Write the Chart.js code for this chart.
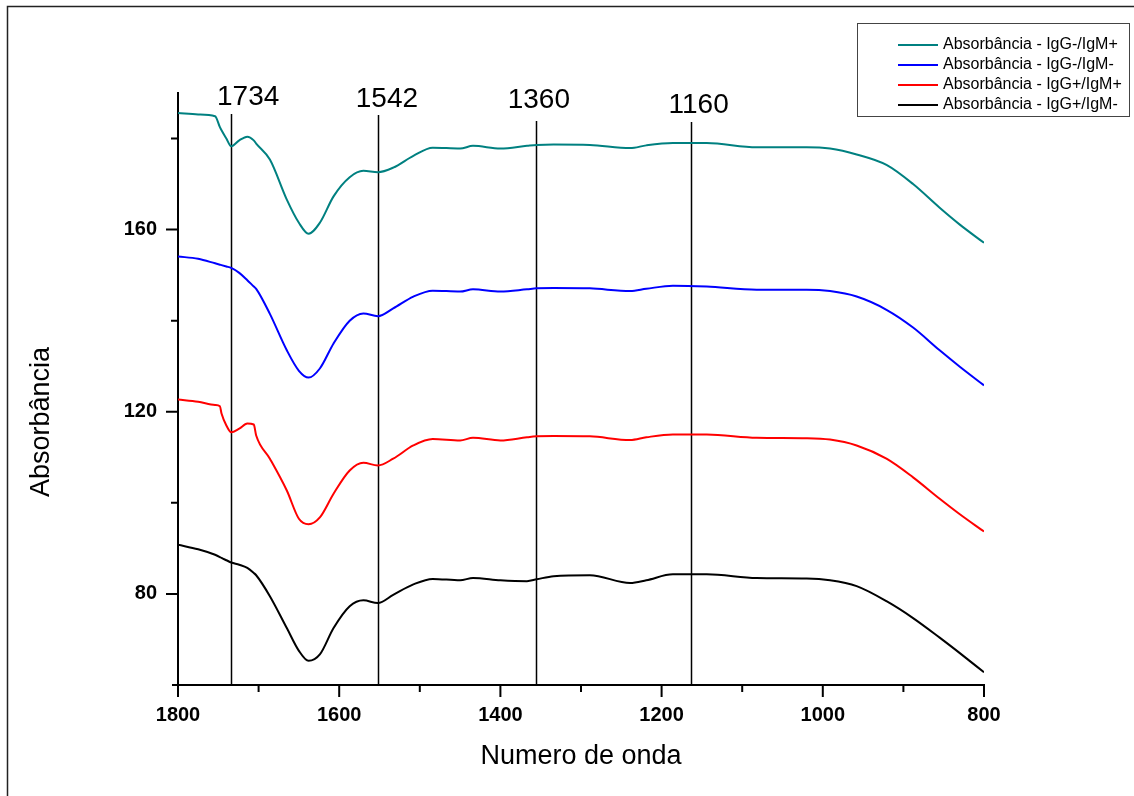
<!DOCTYPE html>
<html>
<head>
<meta charset="utf-8">
<script src="https://cdn.jsdelivr.net/npm/chart.js@4.4.1/dist/chart.umd.min.js"></script>
<style>
  html, body { margin: 0; padding: 0; background: #fff; }
  canvas { display: block; }
</style>
</head>
<body>
<canvas id="spectraChart" width="1134" height="796"></canvas>
<script>
// wave numbers (cm-1) shared by all four spectra
const waveNumbers = [1800, 1775, 1754, 1748, 1746, 1740, 1734, 1724, 1714, 1706, 1703, 1686, 1665, 1650, 1638, 1624, 1607, 1587, 1570, 1552, 1533, 1508, 1484, 1450, 1434, 1400, 1367, 1355, 1334, 1289, 1239, 1219, 1186, 1144, 1082, 1020, 991, 958, 921, 888, 855, 830, 800];

const igGnegIgMpos = [185.6, 185.3, 184.9, 182.5, 181.8, 180.0, 178.3, 179.6, 180.4, 179.6, 178.9, 175.4, 166.6, 161.5, 159.1, 161.5, 167.3, 171.5, 172.9, 172.6, 173.6, 176.2, 178.0, 177.8, 178.4, 177.8, 178.4, 178.6, 178.7, 178.6, 177.9, 178.5, 179.0, 179.0, 178.1, 178.1, 177.8, 176.5, 174.2, 170.0, 164.8, 161.1, 157.1];
const igGnegIgMneg = [154.1, 153.6, 152.6, 152.3, 152.2, 151.9, 151.6, 150.5, 148.9, 147.5, 147.0, 141.5, 133.5, 129.0, 127.5, 129.5, 135.0, 140.0, 141.6, 141.0, 142.7, 145.3, 146.6, 146.4, 146.9, 146.4, 146.9, 147.1, 147.2, 147.1, 146.5, 147.0, 147.7, 147.5, 146.8, 146.8, 146.5, 145.3, 142.4, 138.5, 133.5, 129.9, 125.8];
const igGposIgMpos = [122.7, 122.2, 121.5, 121.2, 119.6, 117.0, 115.5, 116.3, 117.4, 117.2, 114.8, 109.7, 102.7, 96.5, 95.3, 96.8, 102.0, 107.1, 108.8, 108.2, 109.7, 112.6, 114.0, 113.7, 114.3, 113.7, 114.4, 114.6, 114.7, 114.6, 113.8, 114.4, 115.0, 115.0, 114.3, 114.2, 113.9, 112.6, 109.7, 105.6, 100.9, 97.5, 93.7];
const igGposIgMneg = [90.8, 89.8, 88.6, 88.1, 87.9, 87.4, 86.9, 86.4, 85.7, 84.6, 84.1, 79.5, 72.5, 67.5, 65.3, 66.7, 72.5, 77.3, 78.6, 78.0, 79.8, 82.1, 83.3, 83.0, 83.5, 83.0, 82.8, 83.2, 83.9, 84.1, 82.4, 83.0, 84.3, 84.3, 83.5, 83.4, 83.0, 81.7, 78.4, 74.7, 70.4, 67.0, 62.8];

const seriesLabels = ['Absorbância - IgG-/IgM+', 'Absorbância - IgG-/IgM-', 'Absorbância - IgG+/IgM+', 'Absorbância - IgG+/IgM-'];
const seriesColors = ['#008080', '#0000ff', '#ff0000', '#000000'];

// tick labels
const xTickLabels = [1800, 1600, 1400, 1200, 1000, 800];
const xMinorTicks = [1700, 1500, 1300, 1100, 900];
const yTickLabels = [80, 120, 160];
const yMinorTicks = [100, 140, 180];

// marked bands
const peakLines = [1734, 1552, 1356, 1164];
const peakLabels = ['1734', '1542', '1360', '1160'];

const FONT = 'Liberation Sans, Arial, sans-serif';

// pixel tweaks for the band labels (offset from the line, baseline, top of line)
const peakStyle = [
    { dx: 17, base: 105, top: 114 },
    { dx: 9, base: 107, top: 115 },
    { dx: 3, base: 108, top: 121 },
    { dx: 8, base: 113, top: 122 }
];

const decorations = {
    id: 'decorations',
    beforeDatasetsDraw(chart) {
        const ctx = chart.ctx;
        const x = chart.scales.x, y = chart.scales.y;
        ctx.save();
        ctx.strokeStyle = '#000';
        ctx.lineWidth = 1.5;
        peakLines.forEach(function(w, i) {
            const px = Math.round(x.getPixelForValue(w)) + 0.5;
            ctx.beginPath();
            ctx.moveTo(px, peakStyle[i].top);
            ctx.lineTo(px, y.bottom);
            ctx.stroke();
        });
        ctx.fillStyle = '#000';
        ctx.font = '28px ' + FONT;
        ctx.textAlign = 'center';
        ctx.textBaseline = 'alphabetic';
        peakLines.forEach(function(w, i) {
            ctx.fillText(peakLabels[i], x.getPixelForValue(w) + peakStyle[i].dx, peakStyle[i].base);
        });
        ctx.restore();
    },
    afterDraw(chart) {
        const ctx = chart.ctx;
        const x = chart.scales.x, y = chart.scales.y;
        ctx.save();

        // page frame (left and top edges)
        ctx.strokeStyle = '#222';
        ctx.lineWidth = 1.5;
        ctx.beginPath();
        ctx.moveTo(7.5, 796);
        ctx.lineTo(7.5, 6.5);
        ctx.lineTo(1134, 6.5);
        ctx.stroke();

        // tick marks
        ctx.strokeStyle = '#000';
        ctx.lineWidth = 2;
        ctx.beginPath();
        ctx.moveTo(x.left - 6, y.bottom); ctx.lineTo(x.left, y.bottom);
        xTickLabels.forEach(function(v) {
            const px = x.getPixelForValue(v);
            ctx.moveTo(px, y.bottom); ctx.lineTo(px, y.bottom + 12);
        });
        xMinorTicks.forEach(function(v) {
            const px = x.getPixelForValue(v);
            ctx.moveTo(px, y.bottom); ctx.lineTo(px, y.bottom + 7);
        });
        yTickLabels.forEach(function(v) {
            const py = y.getPixelForValue(v);
            ctx.moveTo(x.left, py); ctx.lineTo(x.left - 12, py);
        });
        yMinorTicks.forEach(function(v) {
            const py = y.getPixelForValue(v);
            ctx.moveTo(x.left, py); ctx.lineTo(x.left - 7, py);
        });
        ctx.stroke();

        // axis titles
        ctx.fillStyle = '#000';
        ctx.font = '27px ' + FONT;
        ctx.textAlign = 'center';
        ctx.textBaseline = 'middle';
        ctx.fillText('Numero de onda', 581, 757);
        ctx.save();
        ctx.translate(42, 422);
        ctx.rotate(-Math.PI / 2);
        ctx.fillText('Absorbância', 0, 0);
        ctx.restore();

        // legend box
        ctx.strokeStyle = '#444';
        ctx.lineWidth = 1;
        ctx.fillStyle = '#fff';
        ctx.fillRect(857, 23, 272, 93);
        ctx.strokeRect(857.5, 23.5, 272, 93);
        ctx.font = '16px ' + FONT;
        ctx.textAlign = 'left';
        ctx.textBaseline = 'middle';
        chart.data.datasets.forEach(function(ds, i) {
            const ly = 45 + i * 20;
            ctx.strokeStyle = ds.borderColor;
            ctx.lineWidth = 2;
            ctx.beginPath();
            ctx.moveTo(898, ly); ctx.lineTo(938, ly);
            ctx.stroke();
            ctx.fillStyle = '#000';
            ctx.fillText(ds.label, 943, ly);
        });
        ctx.restore();
    }
};

const seriesValues = [igGnegIgMpos, igGnegIgMneg, igGposIgMpos, igGposIgMneg];

const ctx = document.getElementById('spectraChart').getContext('2d');
new Chart(ctx, {
    type: 'line',
    data: {
        datasets: seriesValues.map(function(vals, i) {
            return {
                label: seriesLabels[i],
                data: waveNumbers.map(function(w, j) { return { x: w, y: vals[j] }; }),
                borderColor: seriesColors[i],
                borderWidth: 2,
                pointRadius: 0,
                fill: false,
                cubicInterpolationMode: 'monotone'
            };
        })
    },
    options: {
        responsive: false,
        animation: false,
        devicePixelRatio: 1,
        layout: { padding: { left: 0, right: 150, top: 93, bottom: 0 } },
        plugins: {
            legend: { display: false },
            tooltip: { enabled: false }
        },
        scales: {
            x: {
                type: 'linear',
                reverse: true,
                min: 800,
                max: 1800,
                afterBuildTicks: function(scale) {
                    scale.ticks = xTickLabels.map(function(v) { return { value: v }; });
                },
                afterFit: function(scale) { scale.height = 111; },
                grid: { display: false, drawTicks: false },
                border: { display: true, color: '#000', width: 2 },
                ticks: {
                    color: '#000',
                    padding: 18,
                    maxRotation: 0,
                    font: { family: FONT, size: 20, weight: 'bold' },
                    callback: function(v) { return String(v); }
                }
            },
            y: {
                min: 60,
                max: 190,
                afterBuildTicks: function(scale) {
                    scale.ticks = yTickLabels.map(function(v) { return { value: v }; });
                },
                afterFit: function(scale) { scale.width = 178; },
                grid: { display: false, drawTicks: false },
                border: { display: true, color: '#000', width: 2 },
                ticks: {
                    color: '#000',
                    padding: 21,
                    font: { family: FONT, size: 20, weight: 'bold' },
                    callback: function(v) { return String(v); }
                }
            }
        }
    },
    plugins: [decorations]
});
</script>
</body>
</html>
